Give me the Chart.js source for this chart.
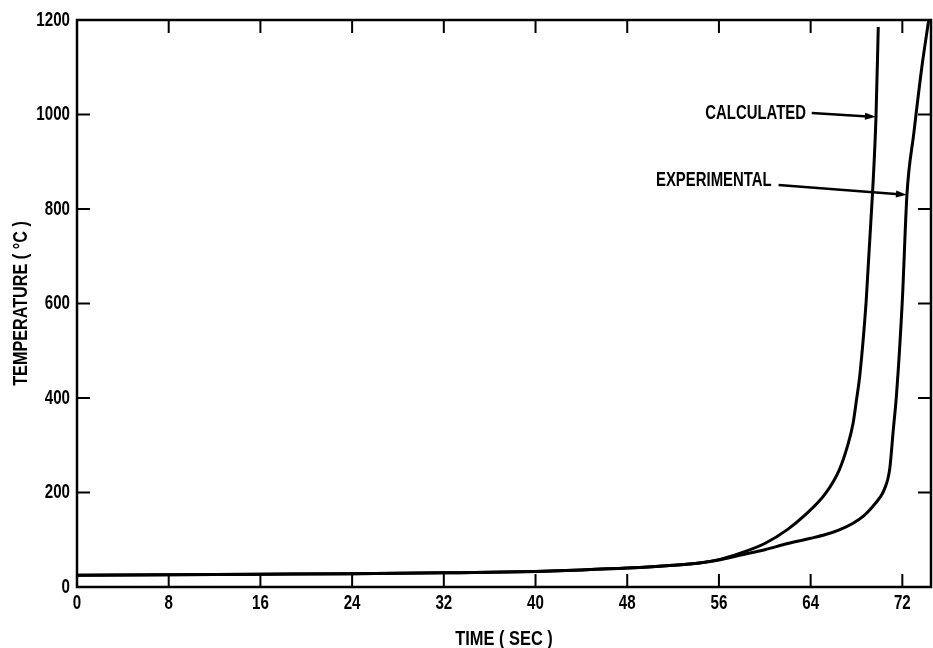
<!DOCTYPE html>
<html lang="en">
<head>
    <meta charset="UTF-8" />
    <title>Temperature vs Time</title>
    <script src="https://cdn.jsdelivr.net/npm/chart.js"></script>
    <style>
        body {
            margin: 0;
            padding: 0;
            background: #ffffff;
        }
        #chart {
            display: block;
        }
    </style>
</head>
<body>

<canvas id="chart" width="933" height="648"></canvas>

<script>
    // Calculated curve (time in sec, temperature in C)
    const calcTime = [0, 8, 16, 24, 32, 40, 44, 48, 52, 54.3, 56, 57.8, 60, 62, 63.5, 65.3, 66.5, 67.2, 67.7, 68, 68.3, 68.85, 69.4, 69.7, 69.9];
    const calcTemp = [25, 26, 27, 28, 30, 33, 36, 40, 46, 51, 58, 71, 92, 122, 152, 198, 248, 297, 346, 396, 450, 607, 834, 994, 1185];

    // Experimental curve
    const expTime = [0, 8, 16, 24, 32, 40, 44, 48, 52, 54.3, 56, 57.8, 60, 62, 64, 65.3, 66.5, 67.7, 68.6, 69.4, 70, 70.4, 70.9, 71.2, 71.5, 72, 72.4, 73, 73.7, 74.3];
    const expTemp = [25, 26, 27, 28, 30, 33, 36, 40, 46, 51, 57, 67, 79, 92, 103, 111, 121, 135, 150, 170, 188, 205, 250, 330, 410, 607, 830, 960, 1100, 1200];

    const xTicks = [0, 8, 16, 24, 32, 40, 48, 56, 64, 72];
    const yTicks = [0, 200, 400, 600, 800, 1000, 1200];

    // Labels with arrows, in data units
    const calcNote = { text: 'CALCULATED', textX: 63.6, textY: 1003, fromX: 64.1, fromY: 1003, toX: 69.7, toY: 995 };
    const expNote = { text: 'EXPERIMENTAL', textX: 60.6, textY: 861, fromX: 61.2, fromY: 851, toX: 72.4, toY: 830 };

    const font = "'Liberation Sans', Arial, sans-serif";

    function pts(xs, ys) {
        return xs.map((x, i) => ({ x: x, y: ys[i] }));
    }

    // condensed text: squeeze horizontally around the anchor
    function squeezed(ctx, text, x, y, size, sx, align, rot) {
        ctx.save();
        ctx.translate(x, y);
        if (rot) ctx.rotate(rot);
        ctx.scale(sx, 1);
        ctx.font = 'bold ' + size + 'px ' + font;
        ctx.textAlign = align;
        ctx.textBaseline = 'middle';
        ctx.fillStyle = '#000';
        ctx.fillText(text, 0, 0);
        ctx.restore();
    }

    // Frame + inward ticks + labels + notes
    const framePlugin = {
        id: 'frame',
        afterDatasetsDraw(chart) {
            const ctx = chart.ctx;
            const a = chart.chartArea;
            const xs = chart.scales.x;
            const ys = chart.scales.y;
            const len = 13;

            ctx.save();
            ctx.strokeStyle = '#000';
            ctx.lineWidth = 2.5;
            ctx.beginPath();
            ctx.rect(a.left, a.top, a.right - a.left, a.bottom - a.top);
            ctx.stroke();

            ctx.lineWidth = 2;
            ctx.beginPath();
            xTicks.forEach(v => {
                const px = xs.getPixelForValue(v);
                ctx.moveTo(px, a.bottom); ctx.lineTo(px, a.bottom - len);
                ctx.moveTo(px, a.top); ctx.lineTo(px, a.top + len);
            });
            yTicks.forEach(v => {
                const py = ys.getPixelForValue(v);
                ctx.moveTo(a.left, py); ctx.lineTo(a.left + len, py);
                ctx.moveTo(a.right, py); ctx.lineTo(a.right - len, py);
            });
            ctx.stroke();

            // tick labels
            xTicks.forEach(v => squeezed(ctx, String(v), xs.getPixelForValue(v), a.bottom + 16, 21, 0.72, 'center'));
            yTicks.forEach(v => squeezed(ctx, String(v), a.left - 7, ys.getPixelForValue(v), 21, 0.72, 'right'));

            // axis titles
            squeezed(ctx, 'TIME ( SEC )', (a.left + a.right) / 2, a.bottom + 52, 20, 0.82, 'center');
            squeezed(ctx, 'TEMPERATURE ( °C )', 21, (a.top + a.bottom) / 2, 20, 0.81, 'center', -Math.PI / 2);

            [calcNote, expNote].forEach(n => {
                const tx = xs.getPixelForValue(n.textX);
                const ty = ys.getPixelForValue(n.textY);
                squeezed(ctx, n.text, tx, ty, 21, 0.71, 'right');

                const x1 = xs.getPixelForValue(n.fromX), y1 = ys.getPixelForValue(n.fromY);
                const x2 = xs.getPixelForValue(n.toX), y2 = ys.getPixelForValue(n.toY);
                const ang = Math.atan2(y2 - y1, x2 - x1);
                ctx.fillStyle = '#000';
                ctx.lineWidth = 2.5;
                ctx.beginPath();
                ctx.moveTo(x1, y1);
                ctx.lineTo(x2 - 8 * Math.cos(ang), y2 - 8 * Math.sin(ang));
                ctx.stroke();
                ctx.beginPath();
                ctx.moveTo(x2, y2);
                ctx.lineTo(x2 - 11 * Math.cos(ang) + 3.5 * Math.sin(ang), y2 - 11 * Math.sin(ang) - 3.5 * Math.cos(ang));
                ctx.lineTo(x2 - 11 * Math.cos(ang) - 3.5 * Math.sin(ang), y2 - 11 * Math.sin(ang) + 3.5 * Math.cos(ang));
                ctx.closePath();
                ctx.fill();
            });
            ctx.restore();
        }
    };

    new Chart(document.getElementById('chart').getContext('2d'), {
        type: 'line',
        data: {
            datasets: [
                {
                    label: 'Calculated',
                    data: pts(calcTime, calcTemp),
                    borderColor: '#000',
                    borderWidth: 3,
                    pointRadius: 0,
                    cubicInterpolationMode: 'monotone',
                    fill: false
                },
                {
                    label: 'Experimental',
                    data: pts(expTime, expTemp),
                    borderColor: '#000',
                    borderWidth: 3,
                    pointRadius: 0,
                    cubicInterpolationMode: 'monotone',
                    fill: false
                }
            ]
        },
        options: {
            responsive: false,
            animation: false,
            layout: { padding: { top: 20, right: 2, left: 0, bottom: 0 } },
            plugins: {
                legend: { display: false },
                tooltip: { enabled: false }
            },
            scales: {
                x: {
                    type: 'linear',
                    min: 0,
                    max: 74.5,
                    afterBuildTicks: s => { s.ticks = xTicks.map(v => ({ value: v })); },
                    afterFit: s => { s.height = 61; },
                    grid: { display: false, drawTicks: false },
                    border: { display: false },
                    ticks: { display: false }
                },
                y: {
                    min: 0,
                    max: 1200,
                    afterBuildTicks: s => { s.ticks = yTicks.map(v => ({ value: v })); },
                    afterFit: s => { s.width = 77; },
                    grid: { display: false, drawTicks: false },
                    border: { display: false },
                    ticks: { display: false }
                }
            }
        },
        plugins: [framePlugin]
    });
</script>

</body>
</html>
